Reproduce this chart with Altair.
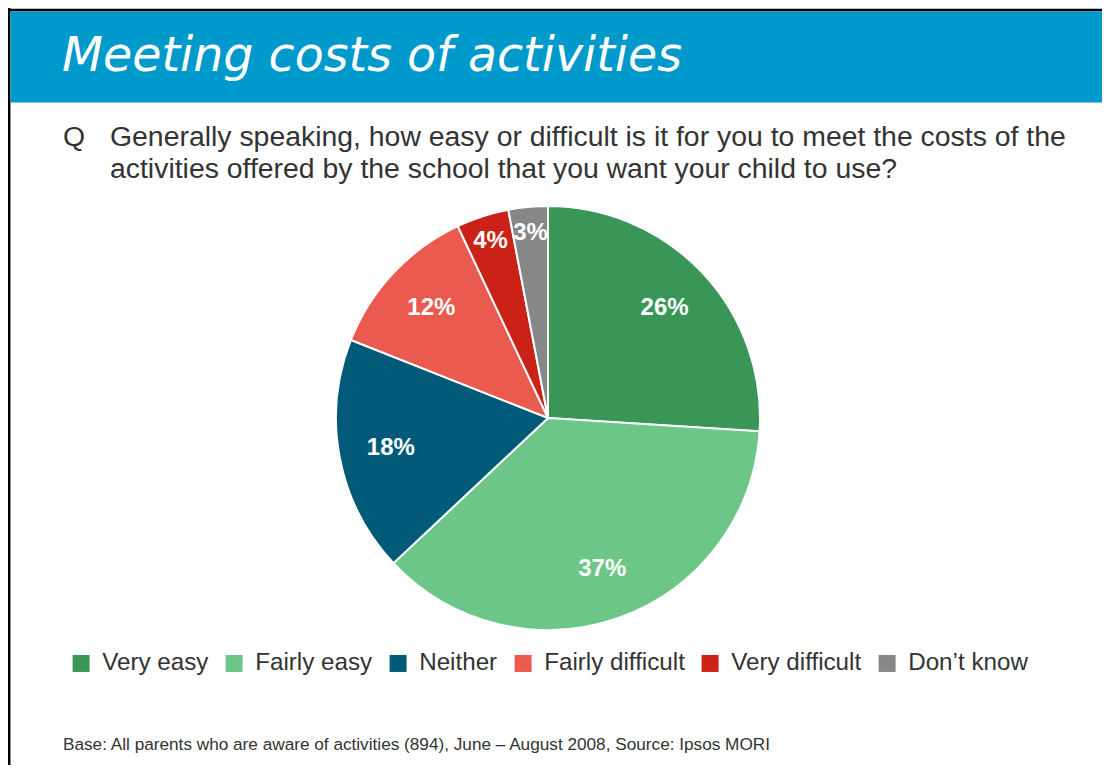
import altair as alt
import pandas as pd

# ---- data ----
categories = ["Very easy", "Fairly easy", "Neither", "Fairly difficult", "Very difficult", "Don\u2019t know"]
values = [26, 37, 18, 12, 4, 3]
colors = ["#3A9657", "#6CC687", "#015A78", "#EB5A4F", "#CA2217", "#878787"]

title_text = "Meeting costs of activities"
question_line1 = "Generally speaking, how easy or difficult is it for you to meet the costs of the"
question_line2 = "activities offered by the school that you want your child to use?"
footnote = "Base: All parents who are aware of activities (894), June \u2013 August 2008, Source: Ipsos MORI"

df = pd.DataFrame({
    "category": categories,
    "value": values,
    "order": list(range(len(categories))),
    "label": [f"{v}%" for v in values],
})

W, H = 1094, 757
CX, CY, R = 540, 410, 212
FONT = "Liberation Sans"
TEXT_COLOR = "#333333"
one = pd.DataFrame({"a": [0]})

color_scale = alt.Scale(domain=categories, range=colors)

# slide frame (left and top edges)
border_left = alt.Chart(one).mark_rule(color="black", strokeWidth=2.5).encode(
    x=alt.value(1.2), y=alt.value(0), y2=alt.value(H)
)
border_top = alt.Chart(one).mark_rule(color="black", strokeWidth=2.5).encode(
    x=alt.value(0), x2=alt.value(W), y=alt.value(2)
)

header = alt.Chart(one).mark_rect(color="#0099CC").encode(
    x=alt.value(2.5), x2=alt.value(W), y=alt.value(3.2), y2=alt.value(94.5)
)

title = alt.Chart(one).mark_text(
    text=title_text, font="DejaVu Sans", fontStyle="italic", fontSize=47.5,
    color="white", align="left", baseline="alphabetic"
).encode(x=alt.value(54), y=alt.value(63))

txt_kw = dict(font=FONT, fontSize=28.4, color=TEXT_COLOR, align="left", baseline="alphabetic")
q_mark = alt.Chart(one).mark_text(text="Q", **txt_kw).encode(x=alt.value(55), y=alt.value(138))
q1 = alt.Chart(one).mark_text(text=question_line1, **txt_kw).encode(x=alt.value(102), y=alt.value(138))
q2 = alt.Chart(one).mark_text(text=question_line2, **txt_kw).encode(x=alt.value(102), y=alt.value(170))

foot = alt.Chart(one).mark_text(
    text=footnote, font=FONT, fontSize=17.2, color=TEXT_COLOR, align="left", baseline="alphabetic"
).encode(x=alt.value(55), y=alt.value(742))

base = alt.Chart(df)

pie = base.mark_arc(outerRadius=R, stroke="white", strokeWidth=2).encode(
    theta=alt.Theta("value:Q", stack=True),
    color=alt.Color(
        "category:N", scale=color_scale, sort=categories,
        legend=alt.Legend(
            title=None, orient="none", legendX=61, legendY=643, direction="horizontal",
            columns=6, symbolType="square", symbolSize=289, symbolStrokeWidth=0,
            labelFont=FONT, labelFontSize=24.2, labelColor=TEXT_COLOR, labelOffset=9,
            columnPadding=13, labelLimit=400, symbolOpacity=1, padding=0,
        ),
    ),
    order=alt.Order("order:Q"),
    x=alt.value(CX), y=alt.value(CY),
)

label_kw = dict(font=FONT, fontSize=24, fontWeight="bold", color="white", baseline="middle", align="center")

labels_big = base.mark_text(**label_kw).encode(
    theta=alt.Theta("value:Q", stack=True),
    order=alt.Order("order:Q"),
    text="label:N",
    opacity=alt.condition("datum.value >= 5", alt.value(1), alt.value(0)),
    radius=alt.value(160),
    x=alt.value(CX), y=alt.value(CY),
)
labels_small = base.mark_text(**label_kw).encode(
    theta=alt.Theta("value:Q", stack=True),
    order=alt.Order("order:Q"),
    text="label:N",
    opacity=alt.condition("datum.value < 5", alt.value(1), alt.value(0)),
    radius=alt.value(186),
    x=alt.value(CX), y=alt.value(CY),
)

chart = alt.layer(
    border_left, border_top, header, title, q_mark, q1, q2, foot, pie, labels_big, labels_small
).properties(
    width=W, height=H, padding=0,
    autosize=alt.AutoSizeParams(type="none"),
).configure(background="white").configure_view(stroke=None)

chart.save("out.html", embed_options={"renderer": "svg", "actions": False})
